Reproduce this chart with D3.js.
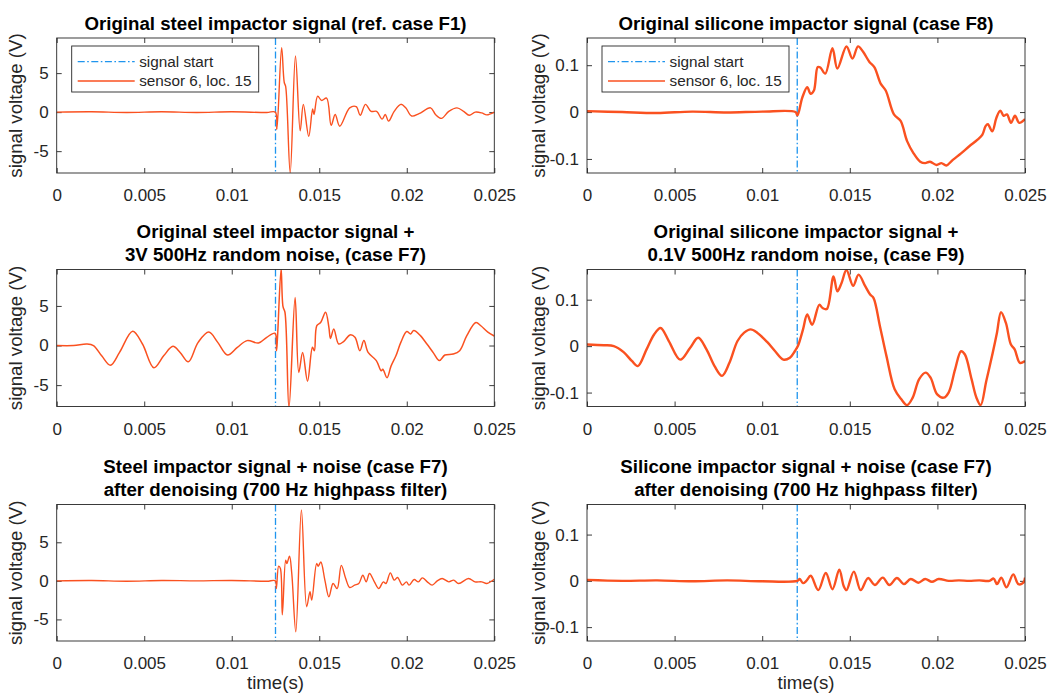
<!DOCTYPE html>
<html>
<head>
<meta charset="utf-8">
<script src="https://cdn.jsdelivr.net/npm/d3@7"></script>
<style>
  html, body { margin: 0; padding: 0; background: #fff; }
  svg { display: block; }
  text { font-family: "Liberation Sans", Arial, Helvetica, sans-serif; }
</style>
</head>
<body>
<svg id="chart" width="1057" height="695"></svg>
<script>
// ---------------- DATA ----------------
const xTicks = [0, 0.005, 0.01, 0.015, 0.02, 0.025];
const steelYTicks = [-5, 0, 5];
const siliconeYTicks = [-0.1, 0, 0.1];
const steelStart = 0.0125;
const siliconeStart = 0.012;
const legendLabels = ["signal start", "sensor 6, loc. 15"];
const xLabel = "time(s)";
const yLabel = "signal voltage (V)";

const titles = [
  ["Original steel impactor signal (ref. case F1)"],
  ["Original silicone impactor signal (case F8)"],
  ["Original steel impactor signal +", "3V 500Hz random noise, (case F7)"],
  ["Original silicone impactor signal +", "0.1V 500Hz random noise, (case F9)"],
  ["Steel impactor signal + noise (case F7)", "after denoising (700 Hz highpass filter)"],
  ["Silicone impactor signal + noise (case F7)", "after denoising (700 Hz highpass filter)"]
];

// [time (s), voltage (V)]
const steelF1 = [[0,0],[0.002,0.05],[0.004,-0.05],[0.006,0.05],[0.008,-0.05],[0.010,0.05],[0.012,-0.05],[0.01249,0],
  [0.01258,-2.2],[0.01285,8.25],[0.01300,3.8],[0.01308,3.3],[0.01334,-7.8],[0.01364,7.2],[0.01391,-2.4],[0.01409,1.0],
  [0.0144,-3.1],[0.01462,0.4],[0.0147,-0.3],[0.01491,2.05],[0.01513,1.5],[0.01542,1.8],[0.01568,-1.7],[0.01591,-0.3],
  [0.01617,-1.8],[0.01674,0.55],[0.01711,0.7],[0.01734,-0.4],[0.01764,1.0],[0.01796,0.1],[0.01828,0.1],[0.01859,-0.9],
  [0.01877,-0.3],[0.01896,-1.15],[0.01928,0.1],[0.01966,1.0],[0.01994,0.55],[0.02028,-0.5],[0.0207,-0.2],[0.02136,0.55],
  [0.02164,-0.3],[0.02198,-0.8],[0.0224,0.1],[0.02287,0.55],[0.02325,0.1],[0.02357,-0.4],[0.02391,0],[0.02428,-0.1],
  [0.02457,-0.35],[0.025,0]];

const siliconeF8 = [[0,0.002],[0.002,0],[0.004,-0.002],[0.006,0.001],[0.008,-0.001],[0.010,0.001],[0.0119,0],[0.01201,-0.007],
  [0.01229,0.031],[0.01257,0.053],[0.01276,0.039],[0.01295,0.046],[0.01317,0.096],[0.01332,0.095],[0.0136,0.082],
  [0.01401,0.136],[0.01429,0.093],[0.01481,0.14],[0.01515,0.114],[0.01547,0.14],[0.01575,0.129],[0.01612,0.107],
  [0.0164,0.096],[0.01677,0.06],[0.01705,0.046],[0.01752,-0.005],[0.0179,-0.019],[0.01827,-0.062],[0.01864,-0.088],
  [0.01902,-0.106],[0.0193,-0.109],[0.01958,-0.106],[0.01995,-0.113],[0.02023,-0.109],[0.02051,-0.114],[0.02088,-0.102],
  [0.02135,-0.088],[0.02182,-0.073],[0.02229,-0.059],[0.02257,-0.048],[0.02275,-0.03],[0.02288,-0.026],[0.02313,-0.041],
  [0.02337,-0.012],[0.02359,0.003],[0.02378,-0.008],[0.02397,-0.005],[0.0242,-0.023],[0.02443,-0.008],[0.02467,-0.023],
  [0.025,-0.015]];

const steelF7 = [[0,0],[0.00097,0],[0.00172,0.19],[0.0021,0],[0.00257,-1.3],[0.00307,-2.5],[0.00359,-0.87],[0.00434,1.8],
  [0.0049,0.19],[0.00555,-2.8],[0.00611,-1.3],[0.00664,-0.1],[0.00705,-0.87],[0.00752,-2.06],[0.00808,0.4],[0.00869,1.7],
  [0.0092,0.4],[0.00976,-1.2],[0.01032,-0.23],[0.01088,0.62],[0.01153,0.32],[0.012,1.04],[0.01247,1.55],[0.01256,-0.66],
  [0.01262,1.25],[0.01282,9.7],[0.01293,4.9],[0.01304,4.2],[0.01327,-7.9],[0.01362,6.06],[0.01383,-3.4],[0.01405,-0.87],
  [0.01433,-4.5],[0.01461,-0.23],[0.01472,-0.66],[0.01486,2.5],[0.01508,2.9],[0.01536,4.2],[0.01555,2.3],[0.01564,0.9],
  [0.01583,2.1],[0.01611,0.19],[0.01639,0.5],[0.01676,1.34],[0.01704,1.04],[0.01732,-0.66],[0.01755,0.62],[0.01779,-0.87],
  [0.01826,-1.9],[0.01854,-3.2],[0.01863,-3.0],[0.01887,-4.06],[0.0191,-2.6],[0.01938,-1.3],[0.01966,0.4],[0.02,1.77],
  [0.02022,1.47],[0.0204,1.9],[0.02078,1.25],[0.02115,0.19],[0.02153,-0.96],[0.02186,-1.9],[0.02218,-1.2],[0.02265,-1.08],
  [0.02302,-0.66],[0.02343,1.25],[0.02395,2.9],[0.02423,2.5],[0.02463,1.7],[0.025,1.2]];

const siliconeF9 = [[0,0.0036],[0.00097,0.002],[0.00153,0],[0.00209,-0.013],[0.00256,-0.032],[0.0029,-0.043],[0.0034,-0.007],
  [0.00383,0.025],[0.0042,0.039],[0.00467,0.011],[0.00532,-0.029],[0.00588,-0.004],[0.00635,0.018],[0.00682,-0.007],
  [0.00728,-0.043],[0.00771,-0.064],[0.00813,-0.036],[0.00859,0.011],[0.00897,0.029],[0.00934,0.036],[0.00971,0.029],
  [0.01028,0.009],[0.01074,-0.011],[0.01121,-0.029],[0.01158,-0.025],[0.01186,-0.011],[0.01205,0.0014],[0.01233,0.036],
  [0.01257,0.068],[0.01285,0.046],[0.01326,0.089],[0.01345,0.082],[0.01369,0.08],[0.01407,0.15],[0.01429,0.118],
  [0.01453,0.136],[0.01481,0.164],[0.01519,0.13],[0.0155,0.154],[0.01588,0.129],[0.01616,0.111],[0.01635,0.104],
  [0.01672,0.043],[0.01709,-0.021],[0.01756,-0.093],[0.01793,-0.114],[0.01827,-0.127],[0.01859,-0.111],[0.01896,-0.071],
  [0.01933,-0.057],[0.01961,-0.068],[0.01999,-0.104],[0.02036,-0.111],[0.02064,-0.1],[0.02101,-0.05],[0.02135,-0.011],
  [0.02157,-0.018],[0.02195,-0.071],[0.02223,-0.111],[0.02247,-0.127],[0.02279,-0.075],[0.02316,-0.014],[0.0234,0.029],
  [0.02363,0.073],[0.02391,0.05],[0.02419,0.004],[0.02441,-0.007],[0.02471,-0.036],[0.025,-0.032]];

const steelDenoised = [[0,0],[0.002,0.05],[0.004,-0.05],[0.006,0.05],[0.008,0],[0.010,0.05],[0.012,-0.05],[0.01249,0],
  [0.01255,-1.0],[0.01268,1.9],[0.01278,1.6],[0.01289,-4.4],[0.01308,2.67],[0.01315,2.24],[0.0133,3.2],[0.01343,0.95],
  [0.01366,-6.6],[0.01398,9.2],[0.01428,-3.36],[0.01447,-1.4],[0.01457,-2.5],[0.01485,2.24],[0.01494,1.9],[0.01509,2.45],
  [0.01532,0.1],[0.01555,-2.07],[0.01579,-0.34],[0.01602,-1.0],[0.01626,2.0],[0.01651,0.3],[0.01674,-0.86],[0.01702,-0.56],
  [0.01726,-0.34],[0.01749,0.73],[0.01768,-0.13],[0.01787,0.95],[0.01815,-0.13],[0.0184,-1.0],[0.01866,-0.13],[0.01881,-0.34],
  [0.01906,1.03],[0.01928,0.09],[0.01947,0.43],[0.01975,-0.56],[0.01998,-0.13],[0.02013,-0.56],[0.02042,0.17],[0.02066,-0.13],
  [0.02089,0.39],[0.02117,-0.13],[0.02145,-0.56],[0.02174,0],[0.02202,0.3],[0.0224,-0.13],[0.02268,0.09],[0.02296,-0.34],
  [0.02353,0.3],[0.0239,-0.13],[0.02428,-0.13],[0.02457,-0.34],[0.025,0.2]];

const siliconeDenoised = [[0,0.002],[0.002,0],[0.004,0.001],[0.006,-0.001],[0.008,0.001],[0.010,-0.001],[0.012,0],
  [0.01214,0.004],[0.01233,-0.005],[0.01252,0],[0.01277,0.011],[0.0132,-0.02],[0.01363,0.017],[0.01401,-0.018],
  [0.0144,0.024],[0.01465,-0.011],[0.01481,-0.02],[0.01523,0.02],[0.01562,-0.02],[0.01604,0.006],[0.01643,-0.009],
  [0.01688,0.007],[0.01726,-0.009],[0.01769,0.006],[0.01809,-0.007],[0.01848,0.004],[0.01891,-0.004],[0.0193,0.004],
  [0.01969,-0.002],[0.02007,0.004],[0.02065,0],[0.02123,0.001],[0.02181,0],[0.02239,0.001],[0.02297,0],[0.02321,0.005],
  [0.0234,-0.007],[0.02365,0.007],[0.02394,-0.014],[0.02433,0.014],[0.02462,-0.007],[0.02491,-0.004],[0.025,0.007]];

// ---------------- LAYOUT ----------------
const cols = [{x0: 56.7, x1: 494.3}, {x0: 587, x1: 1025}];
const rows = [{y0: 38, y1: 173}, {y0: 269.5, y1: 406.5}, {y0: 504.5, y1: 641}];

const panels = [
  {col:0,row:0,data:steelF1,yDom:[-7.8,9.5],yTicks:steelYTicks,start:steelStart,legend:true,sw:1.4},
  {col:1,row:0,data:siliconeF8,yDom:[-0.13,0.158],yTicks:siliconeYTicks,start:siliconeStart,legend:true,sw:2.4},
  {col:0,row:1,data:steelF7,yDom:[-7.7,9.6],yTicks:steelYTicks,start:steelStart,legend:false,sw:1.5},
  {col:1,row:1,data:siliconeF9,yDom:[-0.13,0.165],yTicks:siliconeYTicks,start:siliconeStart,legend:false,sw:2.4},
  {col:0,row:2,data:steelDenoised,yDom:[-7.8,9.9],yTicks:steelYTicks,start:steelStart,legend:false,sw:1.4},
  {col:1,row:2,data:siliconeDenoised,yDom:[-0.13,0.165],yTicks:siliconeYTicks,start:siliconeStart,legend:false,sw:2.4}
];

const axisColor = "#262626";
const lineColor = "#fa5120";
const startColor = "#1f95ee";
const dashPattern = "7,2.5,1.6,2.5";
const tickFont = 17, labelFont = 18.7, legendFont = 15.3;
const tickLen = 5;

const svg = d3.select("#chart");

panels.forEach((p, i) => {
  const c = cols[p.col], r = rows[p.row];
  const x = d3.scaleLinear().domain([0, 0.025]).range([c.x0, c.x1]);
  const y = d3.scaleLinear().domain(p.yDom).range([r.y1, r.y0]);
  const g = svg.append("g");

  const clipId = "clip" + i;
  svg.append("clipPath").attr("id", clipId).append("rect")
    .attr("x", c.x0).attr("y", r.y0).attr("width", c.x1 - c.x0).attr("height", r.y1 - r.y0);

  const fmt = d => String(d);
  const bottom = g.append("g").attr("transform", `translate(0,${r.y1})`)
    .call(d3.axisBottom(x).tickValues(xTicks).tickFormat(fmt).tickSize(-tickLen).tickPadding(16));
  const top = g.append("g").attr("transform", `translate(0,${r.y0})`)
    .call(d3.axisTop(x).tickValues(xTicks).tickFormat("").tickSize(-tickLen));
  const left = g.append("g").attr("transform", `translate(${c.x0},0)`)
    .call(d3.axisLeft(y).tickValues(p.yTicks).tickFormat(fmt).tickSize(-tickLen).tickPadding(8));
  const right = g.append("g").attr("transform", `translate(${c.x1},0)`)
    .call(d3.axisRight(y).tickValues(p.yTicks).tickFormat("").tickSize(-tickLen));
  [bottom, top, left, right].forEach(a => {
    a.select(".domain").remove();
    a.selectAll("line").attr("stroke", axisColor).attr("stroke-width", 0.9);
    a.selectAll("text").attr("fill", axisColor).style("font-size", tickFont + "px")
      .style("font-family", '"Liberation Sans", Arial, sans-serif');
  });
  bottom.selectAll("text").attr("dy", "0.71em");

  g.append("line").attr("x1", x(p.start)).attr("x2", x(p.start))
    .attr("y1", r.y0).attr("y2", r.y1)
    .attr("stroke", startColor).attr("stroke-width", 1.3).attr("stroke-dasharray", dashPattern);

  const line = d3.line().x(d => x(d[0])).y(d => y(d[1])).curve(d3.curveCatmullRom.alpha(0.5));
  g.append("path").datum(p.data).attr("d", line)
    .attr("clip-path", `url(#${clipId})`)
    .attr("fill", "none").attr("stroke", lineColor).attr("stroke-width", p.sw)
    .attr("stroke-linejoin", "round");

  g.append("rect").attr("x", c.x0).attr("y", r.y0).attr("width", c.x1 - c.x0).attr("height", r.y1 - r.y0)
    .attr("fill", "none").attr("stroke", axisColor).attr("stroke-width", 0.9);

  const lines = titles[i];
  const cx = (c.x0 + c.x1) / 2;
  const lastBase = r.y0 - 8.5;
  lines.forEach((t, k) => {
    g.append("text").attr("x", cx).attr("y", lastBase - (lines.length - 1 - k) * 23.5)
      .attr("text-anchor", "middle").attr("font-weight", "bold")
      .style("font-size", labelFont + "px").attr("fill", "#000").text(t);
  });

  const ylx = p.col === 0 ? 22 : 545;
  g.append("text").attr("transform", `translate(${ylx},${(r.y0 + r.y1) / 2}) rotate(-90)`)
    .attr("text-anchor", "middle").style("font-size", labelFont + "px").attr("fill", axisColor).text(yLabel);

  if (p.row === 2) {
    g.append("text").attr("x", cx).attr("y", 689).attr("text-anchor", "middle")
      .style("font-size", labelFont + "px").attr("fill", axisColor).text(xLabel);
  }

  if (p.legend) {
    const lx = c.x0 + 15, ly = r.y0 + 8, lw = 187, lh = 46;
    const lg = g.append("g");
    lg.append("rect").attr("x", lx).attr("y", ly).attr("width", lw).attr("height", lh)
      .attr("fill", "#fff").attr("stroke", axisColor).attr("stroke-width", 0.9);
    const ys = [ly + 15.7, ly + 35];
    lg.append("line").attr("x1", lx + 6).attr("x2", lx + 63).attr("y1", ys[0]).attr("y2", ys[0])
      .attr("stroke", startColor).attr("stroke-width", 1.3).attr("stroke-dasharray", dashPattern);
    lg.append("line").attr("x1", lx + 6).attr("x2", lx + 63).attr("y1", ys[1]).attr("y2", ys[1])
      .attr("stroke", lineColor).attr("stroke-width", 1.3);
    legendLabels.forEach((t, k) => {
      lg.append("text").attr("x", lx + 67.5).attr("y", ys[k]).attr("dy", "0.35em")
        .style("font-size", legendFont + "px").attr("fill", axisColor).text(t);
    });
  }
});
</script>
</body>
</html>
